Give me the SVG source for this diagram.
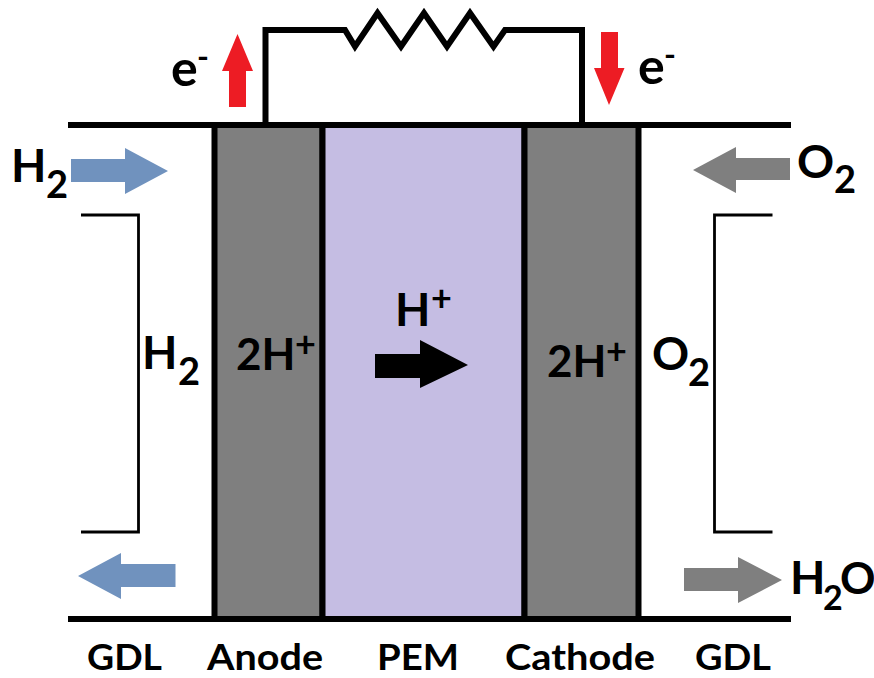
<svg xmlns="http://www.w3.org/2000/svg" width="874" height="678" viewBox="0 0 874 678">
<style>
text{font-family:"Lato","Open Sans","Liberation Sans",sans-serif;font-weight:700;fill:#000}
.big{font-size:46px}
.mid{font-size:44px}
.ee{font-size:50px}
.lab{font-size:37px}
.s2{font-size:38px}
.s3{font-size:34px}
.oo{font-size:44px}
.pl{font-size:36px}
.dash{font-size:32px}
.wire{fill:none;stroke:#000;stroke-width:6}
.rail{fill:none;stroke:#000;stroke-width:6}
.br{fill:none;stroke:#000;stroke-width:2.800}
.wall{stroke:#000;stroke-width:6}
</style>
<rect width="874" height="678" fill="#fff"/>
<g id="anode"><rect class="wall" x="214.500" y="125" width="108" height="494" fill="#7f7f7f"/><text class="mid" x="236" y="370">2H<tspan class="pl" x="295" dy="-13">+</tspan></text></g>
<g id="pem"><rect class="wall" x="322.500" y="125" width="202" height="494" fill="#c5bde3"/></g>
<g id="cathode"><rect class="wall" x="524.500" y="125" width="114" height="494" fill="#7f7f7f"/><text class="mid" x="547" y="377">2H<tspan class="pl" x="606" dy="-13">+</tspan></text></g>
<g id="connectors">
<path class="rail" d="M68 125H791M68 619H791"/>
<path class="wire" d="M265.500 125V30H345L355 46.500L377.500 13L401 46.500L424 13L447 46.500L470 13L493.500 46.500L505 30H582V125"/>
<path class="br" d="M81 215H138.500V532H81M772.500 215H714.500V532H772.500"/>
<path fill="#ed1c24" d="M229 107V71H222L237.500 34L253 71H246V107Z"/>
<path fill="#ed1c24" d="M601 32H618V68H624.500L609 105L594 68H601Z"/>
<path fill="#7092be" d="M71 159H125V148L168 171L125 194V182H71Z"/>
<path fill="#7f7f7f" d="M790 158H736V147L693 170L736 193V180H790Z"/>
<path fill="#7092be" d="M175.500 564H121V553L78 576L121 599V587H175.500Z"/>
<path fill="#7f7f7f" d="M684 568H738V557L782 580L738 603V591H684Z"/>
<path fill="#000" d="M375 354H420V340L468 365L420 388V378H375Z"/>
</g>
<g id="labels">
<text class="ee" x="171" y="86">e<tspan class="dash" x="197" dy="-18">-</tspan></text>
<text class="ee" x="638" y="84">e<tspan class="dash" x="664" dy="-18">-</tspan></text>
<text class="big" x="11" y="182">H<tspan class="s2" x="46" dy="16">2</tspan></text>
<text class="big" x="797" y="178">O<tspan class="s2" x="834" dy="15">2</tspan></text>
<text class="big" x="142" y="369">H<tspan class="s2" x="178" dy="16">2</tspan></text>
<text class="big" x="652" y="370">O<tspan class="s2" x="688" dy="16">2</tspan></text>
<text class="big" x="395" y="326">H<tspan class="pl" x="431" dy="-15">+</tspan></text>
<text class="big" x="790" y="594">H<tspan class="s3" x="823" dy="16">2</tspan><tspan class="oo" x="840" dy="-16">O</tspan></text>
<text class="lab" x="87" y="670" textLength="75" lengthAdjust="spacingAndGlyphs">GDL</text>
<text class="lab" x="207" y="670" textLength="116" lengthAdjust="spacingAndGlyphs">Anode</text>
<text class="lab" x="377" y="670" textLength="82" lengthAdjust="spacingAndGlyphs">PEM</text>
<text class="lab" x="505" y="670" textLength="150" lengthAdjust="spacingAndGlyphs">Cathode</text>
<text class="lab" x="695" y="670" textLength="76" lengthAdjust="spacingAndGlyphs">GDL</text>
</g>
</svg>
